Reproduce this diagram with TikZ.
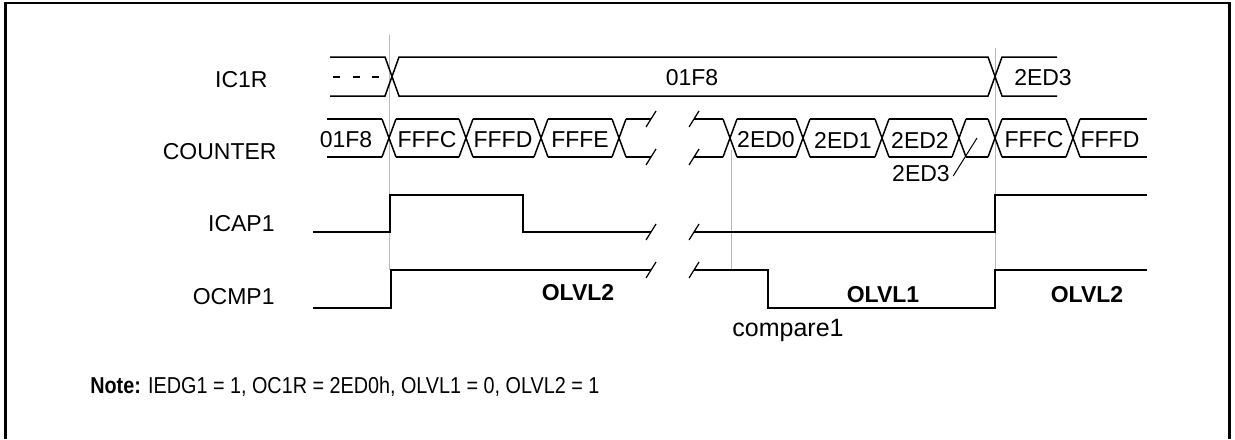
\documentclass[tikz,border=0pt]{standalone}
\usepackage{fontspec}
\setmainfont{Liberation Sans}
\usepackage{tikz}
\usetikzlibrary{positioning, calc}

\tikzset{
  sig/.style={line width=0.75pt, line cap=butt, line join=miter},
  guide/.style={gray!55, line width=0.35pt},
  frm/.style={line width=1.1pt},
  lbl/.style={font=\fontsize{11.5}{13}\selectfont, inner sep=0pt},
  lvl/.style={lbl, font=\fontsize{11.5}{13}\selectfont\bfseries}
}

\begin{document}
\begin{tikzpicture}[x=0.5pt, y=-0.5pt]
\useasboundingbox (0,0) rectangle (1235,439);

% frame (open at the bottom)
\draw[frm] (5.5,439) -- (5.5,3) -- (1229.5,3) -- (1229.5,439);

% guide lines
\draw[guide] (389.5,35) -- (389.5,270);
\draw[guide] (731,150) -- (731,270);
\draw[guide] (995.5,48) -- (995.5,270);

% signal names
\node[lbl, anchor=east] (ic1r)    at (268,80)  {IC1R};
\node[lbl, anchor=east] (counter) at (277,152) {COUNTER};
\node[lbl, anchor=east] (icap1)   at (275,224) {ICAP1};
\node[lbl, anchor=east] (ocmp1)   at (275,297) {OCMP1};

% IC1R bus
\draw[sig] (330,57) -- (385,57) -- (399,96) -- (988,96) -- (1002,57) -- (1057,57);
\draw[sig] (330,96) -- (385,96) -- (399,57) -- (988,57) -- (1002,96) -- (1057,96);
\foreach \x in {333,353,372}
  \draw[sig] (\x,77) -- +(6.5,0);
\node[lbl] (ic1old) at (692,78)  {01F8};
\node[lbl] (ic1new) at (1043,78) {2ED3};

% COUNTER bus
\foreach \xc in {389,466,541,619,730,803,882,959,995,1073}
  \draw[sig] (\xc-7,119) -- (\xc+7,157) (\xc-7,157) -- (\xc+7,119);
\foreach \a/\b in {327/382, 396/459, 473/534, 548/612, 626/651, 694/723,
                   737/796, 810/875, 889/952, 966/988, 1002/1066, 1080/1147}
  \draw[sig] (\a,119) -- (\b,119) (\a,157) -- (\b,157);
\foreach \n/\x/\t in {a/346/01F8, b/427/FFFC, c/503/FFFD, d/580/FFFE,
                      e/766/2ED0, f/843/2ED1, g/920/2ED2, h/1034/FFFC, i/1110/FFFD}
  \node[lbl] (cnt\n) at (\x,140) {\t};
\node[lbl] (cnt2ed3) at (921,174) {2ED3};
\coordinate (slot2ed3) at (977,138);
\draw[line width=0.5pt] ($(cnt2ed3.east)+(3,2)$) -- (slot2ed3);

% ICAP1
\draw[sig] (313,232) -- (390,232) -- (390,195) -- (523,195) -- (523,232) -- (651,232);
\draw[sig] (694,232) -- (995,232) -- (995,195) -- (1147,195);

% OCMP1
\draw[sig] (313,308) -- (391,308) -- (391,270) -- (651,270);
\draw[sig] (694,270) -- (768,270) -- (768,308) -- (995,308) -- (995,270) -- (1147,270);

% time breaks
\foreach \x in {651,694}
  \foreach \y in {119,157,232,270}
    \draw[line width=0.6pt] (\x-5,\y+8) -- (\x+5,\y-8);

% levels
\node[lvl] (lvla) at (578,293)  {OLVL2};
\node[lvl] (lvlb) at (883,295)  {OLVL1};
\node[lvl] (lvlc) at (1087,295) {OLVL2};
\node[lbl, font=\fontsize{12.5}{14}\selectfont] (cmp1) at (788,330) {compare1};

% note
\node[lbl, anchor=west, xscale=0.86, transform shape] (note) at (90,387)
  {\textbf{Note:} IEDG1 = 1, OC1R = 2ED0h, OLVL1 = 0, OLVL2 = 1};
\end{tikzpicture}
\end{document}
